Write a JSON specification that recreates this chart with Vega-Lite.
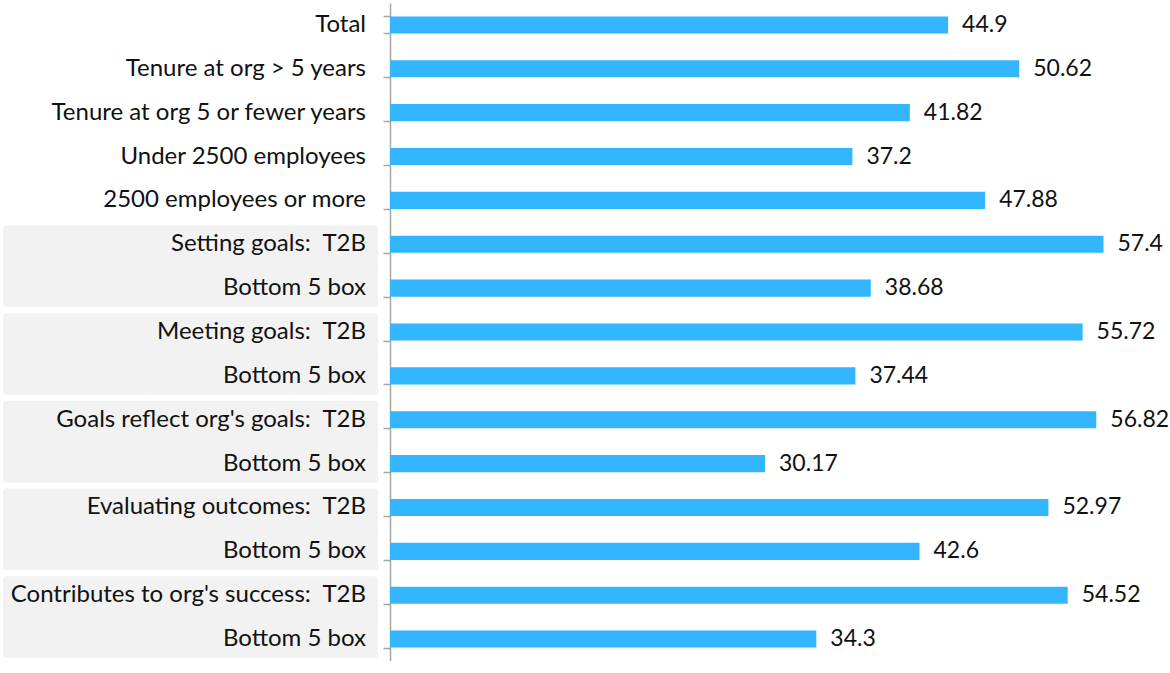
{
  "$schema": "https://vega.github.io/schema/vega-lite/v6.json",
  "padding": {"left": 3, "top": 3, "right": 0, "bottom": 0},
  "autosize": {"type": "pad"},
  "background": "white",
  "spacing": 12,
  "bounds": "flush",
  "config": {"view": {"stroke": null}, "font": "Lato"},
  "datasets": {
    "rows": [
      {"key": "Total", "label": "Total", "value": 44.9},
      {"key": "Tenure at org > 5 years", "label": "Tenure at org > 5 years", "value": 50.62},
      {"key": "Tenure at org 5 or fewer years", "label": "Tenure at org 5 or fewer years", "value": 41.82},
      {"key": "Under 2500 employees", "label": "Under 2500 employees", "value": 37.2},
      {"key": "2500 employees or more", "label": "2500 employees or more", "value": 47.88},
      {"key": "Setting goals: T2B", "label": "Setting goals:\u00a0 T2B", "value": 57.4},
      {"key": "Setting goals: Bottom 5 box", "label": "Bottom 5 box", "value": 38.68},
      {"key": "Meeting goals: T2B", "label": "Meeting goals:\u00a0 T2B", "value": 55.72},
      {"key": "Meeting goals: Bottom 5 box", "label": "Bottom 5 box", "value": 37.44},
      {"key": "Goals reflect org's goals: T2B", "label": "Goals reflect org's goals:\u00a0 T2B", "value": 56.82},
      {"key": "Goals reflect org's goals: Bottom 5 box", "label": "Bottom 5 box", "value": 30.17},
      {"key": "Evaluating outcomes: T2B", "label": "Evaluating outcomes:\u00a0 T2B", "value": 52.97},
      {"key": "Evaluating outcomes: Bottom 5 box", "label": "Bottom 5 box", "value": 42.6},
      {"key": "Contributes to org's success: T2B", "label": "Contributes to org's success:\u00a0 T2B", "value": 54.52},
      {"key": "Contributes to org's success: Bottom 5 box", "label": "Bottom 5 box", "value": 34.3}
    ],
    "boxes": [
      {"top": "Setting goals: T2B", "bottom": "Setting goals: Bottom 5 box"},
      {"top": "Meeting goals: T2B", "bottom": "Meeting goals: Bottom 5 box"},
      {"top": "Goals reflect org's goals: T2B", "bottom": "Goals reflect org's goals: Bottom 5 box"},
      {"top": "Evaluating outcomes: T2B", "bottom": "Evaluating outcomes: Bottom 5 box"},
      {"top": "Contributes to org's success: T2B", "bottom": "Contributes to org's success: Bottom 5 box"}
    ]
  },
  "hconcat": [
    {
      "width": 375,
      "height": 658,
      "layer": [
        {
          "data": {"name": "boxes"},
          "mark": {"type": "rect", "color": "#F2F2F2", "cornerRadius": 3},
          "encoding": {
            "y": {"field": "top", "type": "nominal", "bandPosition": 0.07,
              "scale": {"domain": ["Total", "Tenure at org > 5 years", "Tenure at org 5 or fewer years", "Under 2500 employees", "2500 employees or more", "Setting goals: T2B", "Setting goals: Bottom 5 box", "Meeting goals: T2B", "Meeting goals: Bottom 5 box", "Goals reflect org's goals: T2B", "Goals reflect org's goals: Bottom 5 box", "Evaluating outcomes: T2B", "Evaluating outcomes: Bottom 5 box", "Contributes to org's success: T2B", "Contributes to org's success: Bottom 5 box"], "paddingInner": 0, "paddingOuter": 0},
              "axis": null},
            "y2": {"field": "bottom", "bandPosition": 0.93},
            "x": {"datum": 0, "type": "quantitative", "scale": {"domain": [0, 1], "nice": false}, "axis": null},
            "x2": {"datum": 1}
          }
        },
        {
          "data": {"name": "rows"},
          "mark": {"type": "text", "align": "right", "baseline": "middle", "dx": -12, "fontSize": 24, "color": "#111111"},
          "encoding": {
            "y": {"field": "key", "type": "nominal"},
            "x": {"datum": 1, "type": "quantitative"},
            "text": {"field": "label"}
          }
        }
      ]
    },
    {
      "width": 780,
      "height": 658,
      "data": {"name": "rows"},
      "encoding": {
        "y": {"field": "key", "type": "nominal", "sort": null,
          "scale": {"paddingInner": 0.61, "paddingOuter": 0.305},
          "axis": {"title": null, "labels": false, "tickBand": "extent", "tickSize": 7, "domainColor": "#A6A6A6", "tickColor": "#A6A6A6", "domainWidth": 1.5, "tickWidth": 1.5}},
        "x": {"field": "value", "type": "quantitative", "scale": {"domain": [0, 62.75], "nice": false}, "axis": null}
      },
      "layer": [
        {"mark": {"type": "bar", "color": "#33B5FF"}},
        {"mark": {"type": "text", "align": "left", "baseline": "middle", "dx": 14, "fontSize": 23, "color": "#111111"},
         "encoding": {"text": {"field": "value", "type": "quantitative"}}}
      ]
    }
  ]
}
